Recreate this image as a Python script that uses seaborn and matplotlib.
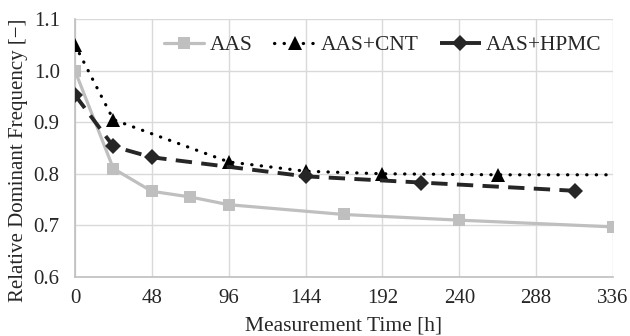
import numpy as np
import pandas as pd
import seaborn as sns
import matplotlib.pyplot as plt

aas_time = [0, 24, 48, 72, 96, 168, 240, 336]
aas_freq = [1.000, 0.810, 0.766, 0.755, 0.740, 0.721, 0.710, 0.697]

cnt_time = [0, 24, 96, 144, 192, 264, 336]
cnt_freq = [1.050, 0.905, 0.823, 0.805, 0.800, 0.798, 0.798]

hpmc_time = [0, 24, 48, 144, 216, 312]
hpmc_freq = [0.953, 0.853, 0.832, 0.795, 0.783, 0.767]

x_ticks = [0, 48, 96, 144, 192, 240, 288, 336]
y_ticks = [0.6, 0.7, 0.8, 0.9, 1.0, 1.1]

sns.set_style("white")
plt.rcParams['font.family'] = ['Liberation Serif', 'DejaVu Serif']

fig = plt.figure(figsize=(6.3, 3.36), dpi=100)
ax = fig.add_axes([0.119, 0.176, 0.854, 0.767])

df_aas = pd.DataFrame({'t': aas_time, 'f': aas_freq})
df_cnt = pd.DataFrame({'t': cnt_time, 'f': cnt_freq})
df_hpmc = pd.DataFrame({'t': hpmc_time, 'f': hpmc_freq})

sns.lineplot(data=df_aas, x='t', y='f', ax=ax, color='#bfbfbf', lw=2.3,
             marker='s', markersize=9, markeredgewidth=0, label='AAS', zorder=3)
sns.lineplot(data=df_cnt, x='t', y='f', ax=ax, color='black', lw=2.3,
             linestyle=(0, (0.1, 2.9)), dash_capstyle='round',
             marker='^', markersize=10, markeredgewidth=0,
             markevery=list(range(len(cnt_time) - 1)), label='AAS+CNT', zorder=4)
sns.lineplot(data=df_hpmc, x='t', y='f', ax=ax, color='#262626', lw=2.8,
             linestyle=(0, (4.2, 2.4)), marker='D', markersize=8.5,
             markeredgewidth=0, label='AAS+HPMC', zorder=5)

ax.set_xlim(0, 336)
ax.set_ylim(0.6, 1.1)
ax.set_xticks(x_ticks)
ax.set_yticks(y_ticks)
ax.set_yticklabels([f'{v:.1f}' for v in y_ticks])
ax.grid(True, color='#d9d9d9', lw=1)
ax.set_axisbelow(True)
for s in ['top', 'right']:
    ax.spines[s].set_visible(False)
for s in ['left', 'bottom']:
    ax.spines[s].set_color('#bfbfbf')
    ax.spines[s].set_linewidth(1.2)
ax.tick_params(axis='both', length=0, labelsize=15, colors='#262626')
ax.tick_params(axis='x', pad=9)
ax.tick_params(axis='y', pad=11)

ax.set_xlabel('Measurement Time [h]', fontsize=15.5, color='#262626')
ax.set_ylabel('Relative Dominant Frequency [\u2212]', fontsize=15, color='#262626')
ax.xaxis.set_label_coords(0.5, -0.155)
ax.yaxis.set_label_coords(-0.087, 0.453)

leg = ax.legend(loc='center', bbox_to_anchor=(0.572, 0.899), ncol=3, frameon=False,
                fontsize=15.5, handlelength=1.9, columnspacing=1.0, handletextpad=0.25)
for t in leg.get_texts():
    t.set_color('#262626')

plt.savefig('out.png', dpi=100)
